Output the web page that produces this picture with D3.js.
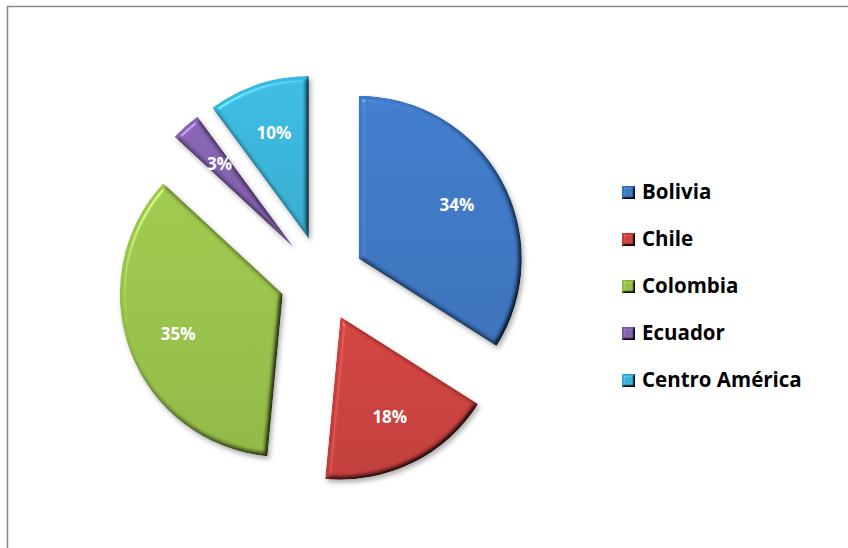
<!DOCTYPE html>
<html>
<head>
<meta charset="utf-8">
<script src="https://cdn.jsdelivr.net/npm/d3@7"></script>
<style>
  html, body { margin: 0; padding: 0; background: #fff; }
  svg { display: block; }
</style>
</head>
<body>
<svg id="chart" width="848" height="548"></svg>
<script>
// ---- data ----
const categories = ["Bolivia", "Chile", "Colombia", "Ecuador", "Centro América"];
const values = [34.0, 17.5, 35.4, 3.0, 10.1];
const labels = ["34%", "18%", "35%", "3%", "10%"];
const colors = ["#3b74bf", "#c53f3c", "#94bd47", "#7f5ea8", "#37afd4"];

// ---- layout ----
const W = 848, H = 548;
const cx = 322, cy = 279;
const R = 163;
const explode = 42;
const labelR = 112;

const svg = d3.select("#chart");
const defs = svg.append("defs");

function bevel(id, blur, scale, shadow) {
  const f = defs.append("filter").attr("id", id)
    .attr("x", "-20%").attr("y", "-20%").attr("width", "140%").attr("height", "140%")
    .attr("color-interpolation-filters", "sRGB");
  f.append("feGaussianBlur").attr("in", "SourceAlpha").attr("stdDeviation", blur).attr("result", "blur");
  const d = f.append("feDiffuseLighting").attr("in", "blur").attr("surfaceScale", scale)
    .attr("diffuseConstant", 1.22).attr("lighting-color", "#fff").attr("result", "diff");
  d.append("feDistantLight").attr("azimuth", 225).attr("elevation", 55);
  f.append("feComposite").attr("in", "SourceGraphic").attr("in2", "diff")
    .attr("operator", "arithmetic").attr("k1", 1).attr("k2", 0).attr("k3", 0).attr("k4", 0).attr("result", "shaded");
  const s = f.append("feSpecularLighting").attr("in", "blur").attr("surfaceScale", scale)
    .attr("specularConstant", 0.6).attr("specularExponent", 60).attr("lighting-color", "#fff").attr("result", "spec");
  s.append("feDistantLight").attr("azimuth", 225).attr("elevation", 55);
  f.append("feComposite").attr("in", "spec").attr("in2", "SourceAlpha").attr("operator", "in").attr("result", "specIn");
  f.append("feComposite").attr("in", "shaded").attr("in2", "specIn")
    .attr("operator", "arithmetic").attr("k1", 0).attr("k2", 1).attr("k3", 0.5).attr("k4", 0).attr("result", "lit");
  f.append("feComposite").attr("in", "lit").attr("in2", "SourceAlpha").attr("operator", "in").attr("result", "litIn");
  if (shadow) {
    f.append("feDropShadow").attr("in", "litIn").attr("dx", 2).attr("dy", 3)
      .attr("stdDeviation", 2.5).attr("flood-color", "#000").attr("flood-opacity", 0.32);
  }
}
bevel("bevelSlice", 2.5, 3.5, true);
bevel("bevelKey", 1.3, 3, false);

// vertical shading gradient per colour
colors.forEach((c, i) => {
  const g = defs.append("linearGradient").attr("id", "grad" + i)
    .attr("x1", 0).attr("y1", 0).attr("x2", 0).attr("y2", 1);
  g.append("stop").attr("offset", "0%").attr("stop-color", d3.color(c).brighter(0.15));
  g.append("stop").attr("offset", "100%").attr("stop-color", d3.color(c).darker(0.12));
});

// border
svg.append("rect")
  .attr("x", 7.5).attr("y", 6.5)
  .attr("width", W + 20).attr("height", H + 20)
  .attr("fill", "none").attr("stroke", "#878787").attr("stroke-width", 1.5);

// pie
const pie = d3.pie().sort(null).value(d => d.v).startAngle(0).endAngle(2 * Math.PI);
const data = pie(categories.map((c, i) => ({ name: c, v: values[i], label: labels[i], i })));
const arc = d3.arc().innerRadius(0).outerRadius(R);
const labelArc = d3.arc().innerRadius(labelR).outerRadius(labelR);

const slices = svg.append("g").attr("transform", `translate(${cx},${cy})`)
  .selectAll("g.slice").data(data).join("g").attr("class", "slice")
  .attr("transform", d => {
    const m = (d.startAngle + d.endAngle) / 2;
    return `translate(${explode * Math.sin(m)},${-explode * Math.cos(m)})`;
  });

slices.append("path")
  .attr("d", arc)
  .attr("fill", d => `url(#grad${d.data.i})`)
  .attr("filter", "url(#bevelSlice)");

slices.append("text")
  .attr("transform", d => `translate(${labelArc.centroid(d)})`)
  .attr("text-anchor", "middle")
  .attr("dy", "0.36em")
  .attr("fill", "#fff")
  .attr("font-family", "'Open Sans', sans-serif")
  .attr("font-weight", "bold")
  .attr("font-size", 17)
  .text(d => d.data.label);

// legend
const legendX = 622, legendY0 = 186, legendStep = 47;
const leg = svg.append("g").selectAll("g").data(categories).join("g")
  .attr("transform", (d, i) => `translate(${legendX},${legendY0 + i * legendStep})`);
leg.append("rect").attr("width", 13).attr("height", 13)
  .attr("fill", (d, i) => colors[i]).attr("filter", "url(#bevelKey)");
leg.append("text")
  .attr("x", 20).attr("y", 13)
  .attr("font-family", "'Open Sans', sans-serif")
  .attr("font-weight", "bold")
  .attr("font-size", 20.5)
  .attr("fill", "#000")
  .text(d => d);
</script>
</body>
</html>
